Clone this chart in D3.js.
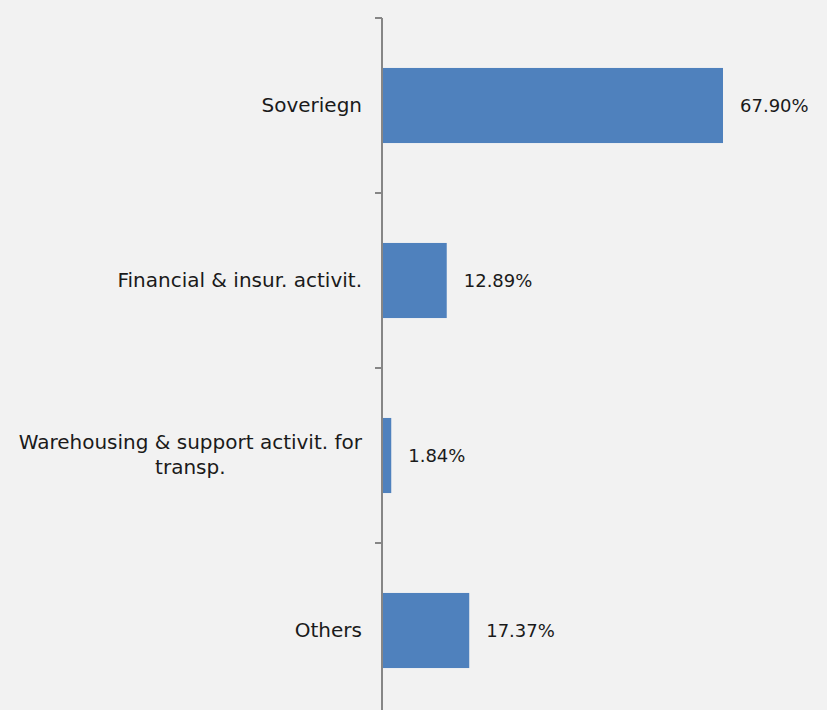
<!DOCTYPE html>
<html>
<head>
<meta charset="utf-8">
<script src="https://cdn.jsdelivr.net/npm/d3@7"></script>
<style>
  html, body { margin: 0; padding: 0; background: #f2f2f2; }
  svg { display: block; }
  text { font-family: "DejaVu Sans", sans-serif; fill: #1a1a1a; }
</style>
</head>
<body>
<svg id="chart" width="827" height="710"></svg>
<script>
// Exposure by sector, share of total (%)
const categories = [
  "Soveriegn",
  "Financial & insur. activit.",
  "Warehousing & support activit. for transp.",
  "Others"
];
const values = [67.90, 12.89, 1.84, 17.37];
const valueLabels = ["67.90%", "12.89%", "1.84%", "17.37%"];
// Category labels split onto lines where they wrap
const labelLines = [
  ["Soveriegn"],
  ["Financial & insur. activit."],
  ["Warehousing & support activit. for", "transp."],
  ["Others"]
];

const svg = d3.select("#chart");
const W = 827, H = 710;
const x0 = 382, yTop = 18, yBottom = 718;

const x = d3.scaleLinear().domain([0, 67.90]).range([x0, 723]);
const y = d3.scaleBand().domain(categories).range([yTop, yBottom]).paddingInner(0.571).paddingOuter(0.2855);

// Bars
svg.selectAll("rect.bar")
  .data(values)
  .join("rect")
  .attr("class", "bar")
  .attr("x", x(0))
  .attr("y", (d, i) => y(categories[i]))
  .attr("width", d => x(d) - x(0))
  .attr("height", y.bandwidth())
  .attr("fill", "#4f81bd");

// Category axis with ticks between bands
const step = y.step();
const tickYs = d3.range(categories.length + 1).map(i => yTop + i * step);
svg.append("line")
  .attr("x1", x0).attr("x2", x0)
  .attr("y1", yTop).attr("y2", H)
  .attr("stroke", "#868686").attr("stroke-width", 2);
svg.selectAll("line.tick")
  .data(tickYs)
  .join("line")
  .attr("class", "tick")
  .attr("x1", x0 - 7).attr("x2", x0)
  .attr("y1", d => d).attr("y2", d => d)
  .attr("stroke", "#868686").attr("stroke-width", 2);

// Category labels
const catFs = 20, valFs = 18, lh = 25;
categories.forEach((c, i) => {
  const lines = labelLines[i];
  const cy = y(c) + y.bandwidth() / 2 - 1;
  const t = svg.append("text")
    .attr("font-size", catFs)
    .attr("text-anchor", "middle");
  lines.forEach(ln => t.append("tspan").text(ln));
  const spans = t.selectAll("tspan").nodes();
  // center every line on the widest one, right edge beside the axis
  const maxW = d3.max(spans.map(s => s.getComputedTextLength()));
  const cx = 362 - maxW / 2;
  spans.forEach((s, j) => {
    d3.select(s)
      .attr("x", cx)
      .attr("y", cy + (j - (lines.length - 1) / 2) * lh)
      .attr("dy", "0.35em");
  });
});

// Value labels
svg.selectAll("text.val")
  .data(values)
  .join("text")
  .attr("class", "val")
  .attr("font-size", valFs)
  .attr("x", d => x(d) + 17)
  .attr("y", (d, i) => y(categories[i]) + y.bandwidth() / 2)
  .attr("dy", "0.35em")
  .text((d, i) => valueLabels[i]);
</script>
</body>
</html>
